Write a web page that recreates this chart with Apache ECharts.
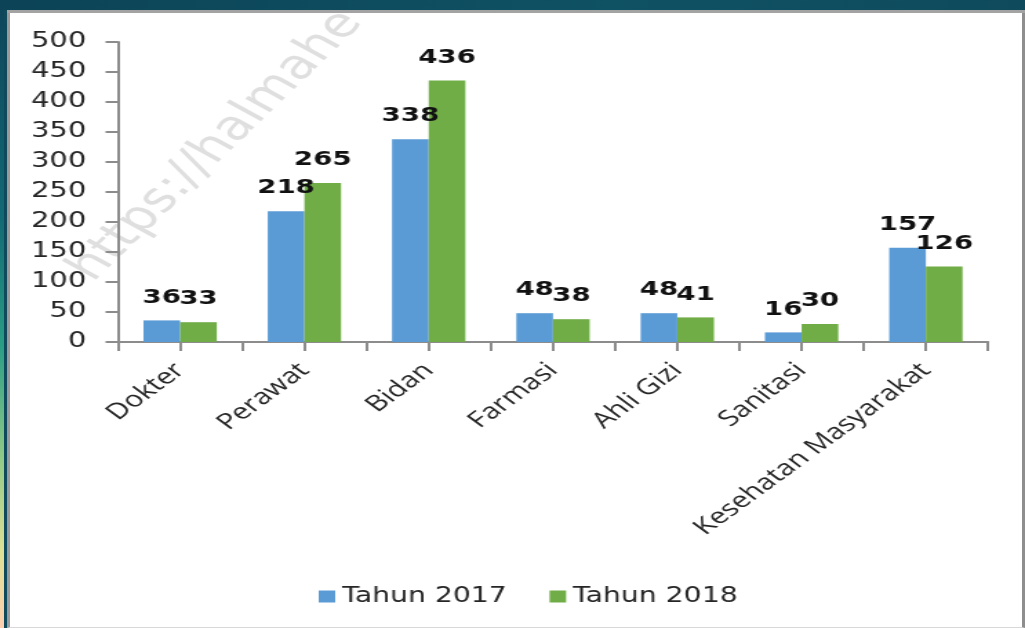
<!DOCTYPE html>
<html>
<head>
<meta charset="utf-8">
<script src="https://cdn.jsdelivr.net/npm/echarts@6/dist/echarts.min.js"></script>
<style>
  html, body { margin: 0; padding: 0; width: 1025px; height: 628px; overflow: hidden; }
  body { background: #0e4a5c; position: relative; }
  #strip { position: absolute; left: 0; top: 0; width: 4px; height: 628px;
    background: linear-gradient(to bottom, #0d4459 0%, #136a74 35%, #2a9d85 55%, #8cc887 72%, #dfe096 88%, #fccfb0 100%); }
  #panel { position: absolute; left: 7px; top: 10px;
    background: #ffffff; border-left: 3px solid #9a9a9a; border-top: 3px solid #a3a3a3; border-right: 3px solid #8e8e8e; border-bottom: 1px solid #d8d8d8; box-sizing: border-box; width: 1018px; height: 618px; }
  #chart { position: absolute; left: 0; top: 0; width: 743px; height: 628px; transform: scaleX(1.37954); transform-origin: 0 0; }
  #topband { position: absolute; left: 0; top: 0; width: 1025px; height: 10px; background: linear-gradient(to right, #0c4356, #0f5264 60%, #0e4a5c); }
  #topline { position: absolute; left: 7px; top: 10px; width: 1018px; height: 3px; background: #a3a3a3; }
</style>
</head>
<body>
<div id="strip"></div>
<div id="panel"></div>
<div id="chart"></div>
<div id="topband"></div>
<div id="topline"></div>
<script>
  // ---- data ----
  const categories = ['Dokter', 'Perawat', 'Bidan', 'Farmasi', 'Ahli Gizi', 'Sanitasi', 'Kesehatan Masyarakat'];
  const tahun2017 = [36, 218, 338, 48, 48, 16, 157];
  const tahun2018 = [33, 265, 436, 38, 41, 30, 126];
  const seriesNames = ['Tahun 2017', 'Tahun 2018'];
  const yTicks = { min: 0, max: 500, interval: 50 };
  const watermark = 'https://halmahe';

  // tick helper axis: one slot per half category (ticks at boundaries and centers)
  const halfSlots = [];
  categories.forEach(() => { halfSlots.push(''); halfSlots.push(''); });

  const axisGray = '#8c8c8c';
  const chart = echarts.init(document.getElementById('chart'), null, { renderer: 'canvas' });
  chart.setOption({
    animation: false,
    backgroundColor: 'transparent',
    graphic: [{
      type: 'text',
      x: 157, y: 146,
      rotation: 53 * Math.PI / 180,
      z: -10,
      silent: true,
      style: {
        text: watermark,
        fontFamily: 'DejaVu Sans',
        fontSize: 41,
        fill: 'rgba(185,185,185,0.45)',
        textAlign: 'center',
        textVerticalAlign: 'middle'
      }
    }],
    grid: { left: 85.5, right: 26.8, top: 42, bottom: 286, containLabel: false },
    legend: {
      data: seriesNames,
      left: 226, top: 581,
      icon: 'rect', itemWidth: 12, itemHeight: 12, itemGap: 31,
      textStyle: { fontFamily: 'DejaVu Sans', fontSize: 20.5, color: '#262626' }
    },
    xAxis: [{
      type: 'category',
      data: categories,
      axisLine: { show: true, lineStyle: { color: axisGray, width: 2 } },
      axisTick: { show: false },
      axisLabel: { interval: 0, rotate: 45, margin: 25, fontFamily: 'Open Sans', fontSize: 22, color: '#262626' },
      splitLine: { show: false }
    }, {
      type: 'category',
      data: halfSlots,
      position: 'bottom',
      axisLine: { show: false },
      axisTick: { show: true, interval: 0, length: 9, lineStyle: { color: axisGray, width: 2 } },
      axisLabel: { show: false },
      splitLine: { show: false }
    }],
    yAxis: {
      type: 'value',
      min: yTicks.min, max: yTicks.max, interval: yTicks.interval,
      axisLine: { show: true, lineStyle: { color: axisGray, width: 2 } },
      axisTick: { show: true, length: 9, lineStyle: { color: axisGray, width: 2 } },
      axisLabel: { margin: 23, fontFamily: 'DejaVu Sans', fontSize: 21, color: '#262626' },
      splitLine: { show: false }
    },
    series: [{
      name: seriesNames[0],
      type: 'bar',
      data: tahun2017,
      barGap: '0%',
      barCategoryGap: '41%',
      itemStyle: { color: '#5b9bd5' },
      label: { show: true, position: 'top', distance: 13, fontFamily: 'DejaVu Sans', fontWeight: 'bold', fontSize: 20, color: '#111' }
    }, {
      name: seriesNames[1],
      type: 'bar',
      data: tahun2018,
      barGap: '0%',
      barCategoryGap: '41%',
      itemStyle: { color: '#70ad47' },
      label: { show: true, position: 'top', distance: 13, fontFamily: 'DejaVu Sans', fontWeight: 'bold', fontSize: 20, color: '#111' }
    }]
  });
</script>
</body>
</html>
